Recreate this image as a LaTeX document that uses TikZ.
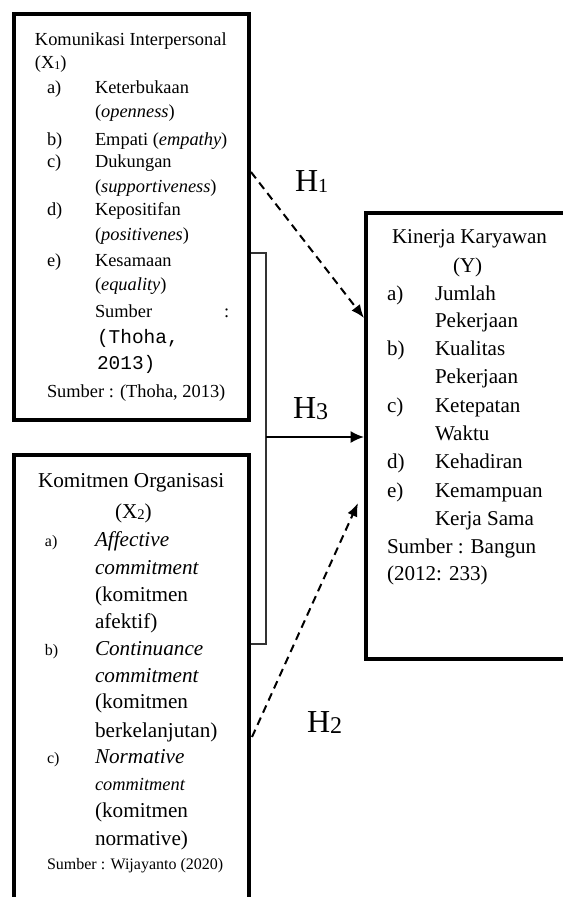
\documentclass[tikz,border=0pt]{standalone}
\usepackage{fontspec}
\setmainfont{Liberation Serif}
\setmonofont{Liberation Mono}
\usetikzlibrary{arrows.meta}
\newcommand{\subsm}[2]{\raisebox{-1pt}{\fontsize{#1}{#1}\selectfont #2}}
\begin{document}
\begin{tikzpicture}[x=0.75pt,y=-0.75pt]
\tikzset{
  tx/.style={anchor=base west,inner sep=0pt,outer sep=0pt},
  ta/.style={tx,font=\fontsize{13.8}{16}\selectfont},
  tam/.style={tx,font=\fontsize{14.6}{16}\selectfont\ttfamily},
  tb/.style={tx,font=\fontsize{15.9}{19}\selectfont},
  tbs/.style={tx,font=\fontsize{12}{14}\selectfont},
  tbm/.style={tx,font=\fontsize{13.8}{16}\selectfont},
  tc/.style={tx,font=\fontsize{15.8}{19}\selectfont},
  hlab/.style={tx,font=\fontsize{24}{28}\selectfont},
  frame/.style={draw=black,line width=3pt,rectangle,inner sep=0pt},
  dasharrow/.style={line width=1.5pt,dash pattern=on 6pt off 4pt,-{Latex[length=10pt,width=8pt]}},
  solidarrow/.style={line width=1.5pt,-{Latex[length=10pt,width=9pt]}},
  bracket/.style={line width=0.8pt,draw=black!80}
}
\useasboundingbox (0,0) rectangle (563,897);
% boxes
\node[frame,minimum width=176.25pt,minimum height=304.5pt] (X1) at (131.5,217) {};
\node[frame,minimum width=176.25pt,minimum height=337.5pt] (X2) at (131.5,680) {};
\node[frame,minimum width=156.75pt,minimum height=334.875pt] (Y) at (470.5,435.75) {};

% box 1 text
\node[ta] (a1) at (35,45) {Komunikasi Interpersonal};
\node[ta] (a2) at (35,68) {(X\subsm{9}{1})};
\node[ta] (a3) at (47,93) {a)};
\node[ta] (a4) at (95,93) {Keterbukaan};
\node[ta] (a5) at (95,117) {(\textit{openness})};
\node[ta] (a6) at (47,145) {b)};
\node[ta] (a7) at (95,145) {Empati (\textit{empathy})};
\node[ta] (a8) at (47,167) {c)};
\node[ta] (a9) at (95,167) {Dukungan};
\node[ta] (a10) at (95,192) {(\textit{supportiveness})};
\node[ta] (a11) at (47,215) {d)};
\node[ta] (a12) at (95,215) {Kepositifan};
\node[ta] (a13) at (95,240) {(\textit{positivenes})};
\node[ta] (a14) at (47,266) {e)};
\node[ta] (a15) at (95,266) {Kesamaan};
\node[ta] (a16) at (95,290) {(\textit{equality})};
\node[ta] (a17) at (95,317) {Sumber};
\node[ta] (a18) at (224,317) {:};
\node[tam] (a19) at (97,343) {(Thoha,};
\node[tam] (a20) at (97,369) {2013)};
\node[ta] (a21) at (47,397) {Sumber : (Thoha, 2013)};

% box 2 text
\node[tb] (b1) at (38,487) {Komitmen Organisasi};
\node[tb] (b2) at (115,518) {(X\subsm{11}{2})};
\node[tbs] (b3) at (45,546) {a)};
\node[tb] (b4) at (95,546) {\textit{Affective}};
\node[tb] (b5) at (95,574) {\textit{commitment}};
\node[tb] (b6) at (95,601) {(komitmen};
\node[tb] (b7) at (95,628) {afektif)};
\node[tbs] (b8) at (45,655) {b)};
\node[tb] (b9) at (95,655) {\textit{Continuance}};
\node[tb] (b10) at (95,682) {\textit{commitment}};
\node[tb] (b11) at (95,708) {(komitmen};
\node[tb] (b12) at (95,737) {berkelanjutan)};
\node[tbs] (b13) at (47,763) {c)};
\node[tb] (b14) at (95,763) {\textit{Normative}};
\node[tbm] (b15) at (95,790) {\textit{commitment}};
\node[tb] (b16) at (95,817) {(komitmen};
\node[tb] (b17) at (95,845) {normative)};
\node[tbs] (b18) at (47,869) {Sumber : Wijayanto (2020)};

% box 3 text
\node[tc] (c1) at (392,243) {Kinerja Karyawan};
\node[tc] (c2) at (453,272) {(Y)};
\node[tc] (c3) at (387,300) {a)};
\node[tc] (c4) at (435,300) {Jumlah};
\node[tc] (c5) at (435,327) {Pekerjaan};
\node[tc] (c6) at (387,355) {b)};
\node[tc] (c7) at (435,355) {Kualitas};
\node[tc] (c8) at (435,383) {Pekerjaan};
\node[tc] (c9) at (387,412) {c)};
\node[tc] (c10) at (435,412) {Ketepatan};
\node[tc] (c11) at (435,440) {Waktu};
\node[tc] (c12) at (387,468) {d)};
\node[tc] (c13) at (435,468) {Kehadiran};
\node[tc] (c14) at (387,497) {e)};
\node[tc] (c15) at (435,497) {Kemampuan};
\node[tc] (c16) at (435,525) {Kerja Sama};
\node[tc] (c17) at (387,553) {Sumber : Bangun};
\node[tc] (c18) at (387,580) {(2012: 233)};

% connector end points
\coordinate (h1s) at (251,172);
\coordinate (h1e) at (364,318);
\coordinate (h2s) at (252,737);
\coordinate (h2e) at (358,503);
\coordinate (br1) at (251,253);
\coordinate (br2) at (266,253);
\coordinate (br3) at (266,644);
\coordinate (br4) at (251,644);
\coordinate (h3s) at (266,437);
\coordinate (h3e) at (364,437);

\draw[bracket] (br1) -- (br2) -- (br3) -- (br4);
\draw[dasharrow] (h1s) -- (h1e);
\draw[dasharrow] (h2s) -- (h2e);
\draw[solidarrow] (h3s) -- (h3e);

% labels
\node[hlab] (H1) at (295,191) {H\subsm{15}{1}};
\node[hlab] (H3) at (293,418) {H\subsm{18}{3}};
\node[hlab] (H2) at (307,732) {H\subsm{18}{2}};
\end{tikzpicture}
\end{document}
